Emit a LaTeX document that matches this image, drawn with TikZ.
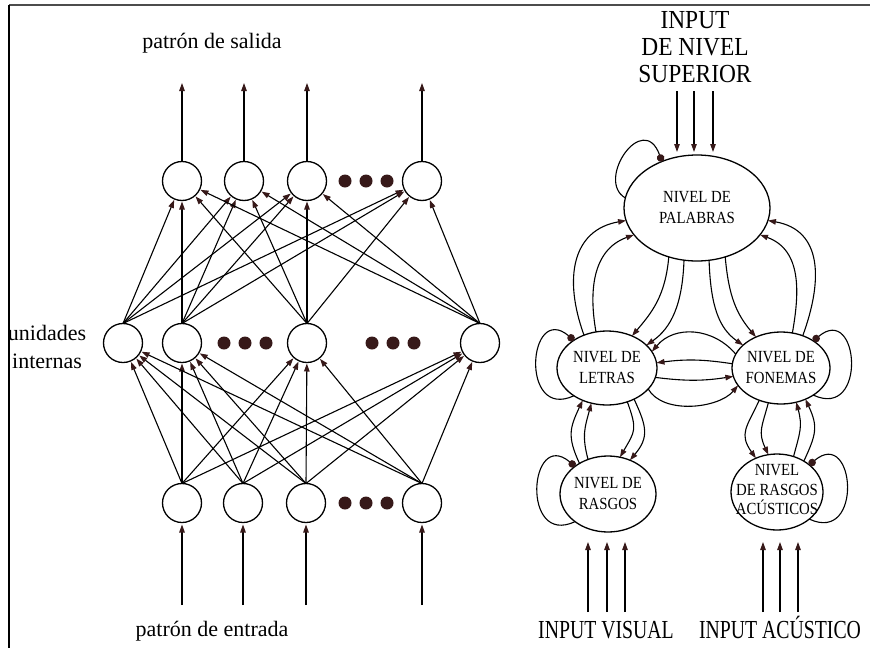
\documentclass[tikz,border=0pt]{standalone}
\usepackage{fontspec}
\newfontfamily\lowfont{Liberation Serif}
\newfontfamily\capsA[FakeStretch=0.9]{Liberation Serif}
\newfontfamily\capsB[FakeStretch=0.76]{Liberation Serif}
\newfontfamily\capsC[FakeStretch=0.87]{Liberation Serif}
\usetikzlibrary{arrows.meta,shapes.geometric}
\definecolor{tipc}{RGB}{55,25,25}
\begin{document}
\begin{tikzpicture}[x=1pt,y=1pt,
  unit/.style={circle,draw,line width=1.3pt,minimum size=39pt,inner sep=0pt,outer sep=0pt},
  bigdot/.style={circle,fill=tipc,minimum size=13pt,inner sep=0pt},
  lvl/.style={ellipse,draw,line width=1.3pt,inner sep=0pt,outer sep=0pt},
  lvltext/.style={align=center,font=\capsC\fontsize{17}{21}\selectfont},
  arr/.style={line width=1.1pt,-{Triangle[length=8pt,width=5.5pt,color=tipc]}},
  loopline/.style={line width=1.1pt,-{Circle[length=7.5pt,color=tipc]}},
  lab/.style={font=\lowfont\fontsize{22}{28}\selectfont,align=center},
]
\fill[white] (0,0) rectangle (870,-648);
\useasboundingbox (0,0) rectangle (870,-648);
% frame
\draw[line width=2pt,black!70] (9,-5) -- (870,-5);
\draw[line width=2pt] (9,-5) -- (9,-648);

% ---------------- left network ----------------
\node[unit] (o1) at (182,-181) {};
\node[unit] (o2) at (244,-181) {};
\node[unit] (o3) at (307,-181) {};
\node[unit] (o4) at (422,-181) {};
\node[unit] (h1) at (123,-343) {};
\node[unit] (h2) at (182,-343) {};
\node[unit] (h3) at (307,-343) {};
\node[unit] (h4) at (480,-343) {};
\node[unit] (i1) at (182,-503) {};
\node[unit] (i2) at (243,-503) {};
\node[unit] (i3) at (306,-503) {};
\node[unit] (i4) at (422,-503) {};

\foreach \x [count=\k] in {345,366,387}{
  \node[bigdot] (dta\k) at (\x,-181) {};
  \node[bigdot] (dtc\k) at (\x,-503) {};
}
\foreach \x [count=\k] in {224,245,266}{\node[bigdot] (dtb\k) at (\x,-343) {};}
\foreach \x [count=\k] in {372,393,414}{\node[bigdot] (dtd\k) at (\x,-343) {};}

\foreach \s in {h1,h2,h3,h4}{
  \foreach \t in {o1,o2,o3,o4}{
    \draw[arr,shorten >=1pt] (\s.north) -- (\t);
  }
}
\foreach \s in {i1,i2,i3,i4}{
  \foreach \t in {h1,h2,h3,h4}{
    \draw[arr,shorten >=1pt] (\s.north) -- (\t);
  }
}
\foreach \n/\x in {1/182,2/244,3/307,4/422}{
  \coordinate (ot\n) at (\x,-83);
  \draw[arr] (o\n) -- (ot\n);
}
\foreach \n/\x in {1/182,2/243,3/306,4/422}{
  \coordinate (ib\n) at (\x,-605);
  \draw[arr,shorten >=2pt] (ib\n) -- (i\n);
}

\node[lab,anchor=base] (salida) at (212,-48) {patrón de salida};
\node[lab,anchor=base] (entrada) at (212,-636) {patrón de entrada};
\node[lab] (internas) at (47,-347) {unidades\\internas};

% ---------------- right model ----------------
\node[lvl,minimum width=146pt,minimum height=106pt] (pal) at (697,-208) {};
\node[lvl,minimum width=100pt,minimum height=74pt] (let) at (607,-368) {};
\node[lvl,minimum width=98pt,minimum height=72pt] (fon) at (781,-368) {};
\node[lvl,minimum width=96pt,minimum height=76pt] (ras) at (608,-494) {};
\node[lvl,minimum width=92pt,minimum height=76pt] (acu) at (777,-492) {};

\node[lvltext] (palT) at (697,-208) {NIVEL DE\\PALABRAS};
\node[lvltext] (letT) at (607,-368) {NIVEL DE\\LETRAS};
\node[lvltext] (fonT) at (781,-368) {NIVEL DE\\FONEMAS};
\node[lvltext] (rasT) at (608,-494) {NIVEL DE\\RASGOS};
\node[lvltext,font=\capsC\fontsize{17}{19.5}\selectfont] (acuT) at (777,-490) {NIVEL\\DE RASGOS\\ACÚSTICOS};

% self loops (inhibitory)
\draw[loopline] (pal.172) .. controls +(150:35) and +(110:55) .. (pal.127);
\draw[loopline] (let.220) .. controls +(205:60) and +(140:60) .. (let.140);
\draw[loopline] (fon.320) .. controls +(-25:60) and +(40:60) .. (fon.40);
\draw[loopline] (ras.220) .. controls +(205:60) and +(140:60) .. (ras.140);
\draw[loopline] (acu.320) .. controls +(-25:60) and +(40:60) .. (acu.40);

% palabras <-> letras
\draw[arr] (let.125) .. controls +(110:60) and +(190:55) .. (pal.190);
\draw[arr] (let.107) .. controls +(100:40) and +(200:45) .. (pal.203);
\draw[arr] (pal.240) .. controls +(265:40) and +(50:30) .. (let.52);
\draw[arr] (pal.256) .. controls +(268:45) and +(35:30) .. (let.30);
% palabras <-> fonemas
\draw[arr] (fon.56) .. controls +(70:60) and +(-10:55) .. (pal.350);
\draw[arr] (fon.72) .. controls +(80:40) and +(-20:45) .. (pal.337);
\draw[arr] (pal.300) .. controls +(275:40) and +(130:30) .. (fon.129);
\draw[arr] (pal.283) .. controls +(272:45) and +(145:30) .. (fon.149);
% letras <-> fonemas
\draw[arr] (fon.163) .. controls +(130:35) and +(50:35) .. (let.20);
\draw[arr] (fon.175) to[bend right=8] (let.6);
\draw[arr] (let.349) to[bend right=8] (fon.190);
\draw[arr] (let.333) .. controls +(300:30) and +(230:30) .. (fon.202);
% letras <-> rasgos
\draw[arr] (ras.133) .. controls +(115:30) and +(245:30) .. (let.233);
\draw[arr] (ras.120) .. controls +(105:25) and +(255:25) .. (let.246);
\draw[arr] (let.301) .. controls +(-70:30) and +(60:30) .. (ras.72);
\draw[arr] (let.311) .. controls +(-65:30) and +(50:30) .. (ras.57);
% fonemas <-> acusticos
\draw[arr] (fon.236) .. controls +(245:30) and +(125:30) .. (acu.122);
\draw[arr] (fon.250) .. controls +(255:25) and +(115:25) .. (acu.103);
\draw[arr] (acu.49) .. controls +(65:30) and +(-65:30) .. (fon.308);
\draw[arr] (acu.65) .. controls +(75:25) and +(-75:25) .. (fon.294);

% top input
\foreach \n/\x in {1/677,2/694,3/713}{
  \coordinate (ti\n) at (\x,-91);
  \draw[arr,shorten >=3pt] (ti\n) -- (ti\n |- pal.north);
}
\node[font=\capsA\fontsize{26}{27}\selectfont,align=center] (sup) at (695,-47) {INPUT\\DE NIVEL\\SUPERIOR};

% bottom inputs
\foreach \n/\x in {1/588,2/607,3/625}{
  \coordinate (vi\n) at (\x,-612);
  \draw[arr,shorten >=10pt] (vi\n) -- (vi\n |- ras.south);
}
\foreach \n/\x in {1/763,2/780,3/798}{
  \coordinate (ai\n) at (\x,-612);
  \draw[arr,shorten >=12pt] (ai\n) -- (ai\n |- acu.south);
}
\node[font=\capsB\fontsize{26}{27}\selectfont,anchor=base] (vis) at (606,-638) {INPUT VISUAL};
\node[font=\capsB\fontsize{26}{27}\selectfont,anchor=base] (acs) at (780,-638) {INPUT ACÚSTICO};
\end{tikzpicture}
\end{document}
